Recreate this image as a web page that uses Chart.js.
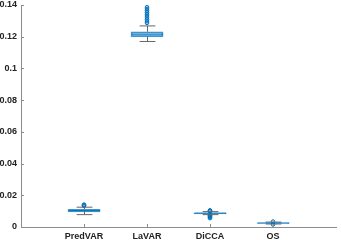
<!DOCTYPE html>
<html>
<head>
<meta charset="utf-8">
<script src="https://cdn.jsdelivr.net/npm/chart.js@4/dist/chart.umd.min.js"></script>
<style>
  html, body { margin: 0; padding: 0; background: #fff; }
  #wrap { width: 341px; height: 240px; }
</style>
</head>
<body>
<div id="wrap"><canvas id="chart" width="341" height="240"></canvas></div>
<script>
// box statistics
const categories = ["PredVAR", "LaVAR", "DiCCA", "OS"];
const q1 = [0.0095, 0.1201, 0.0083, 0.0022];
const med = [0.0103, 0.1216, 0.0087, 0.0025];
const q3 = [0.0112, 0.1231, 0.0090, 0.0027];
const whiskLow = [0.0078, 0.1170, 0.0078, 0.0019];
const whiskHigh = [0.0125, 0.1268, 0.0097, 0.0031];
const outliers = [
    [0.0133, 0.0137, 0.0141],
    [0.1287, 0.1298, 0.1309, 0.1320, 0.1331, 0.1342, 0.1353, 0.1364, 0.1375, 0.1386],
    [0.0056, 0.0061, 0.0066, 0.0071, 0.0074, 0.0099, 0.0102, 0.0105],
    [0.0016, 0.0034]
];
const yTicks = [0, 0.02, 0.04, 0.06, 0.08, 0.1, 0.12, 0.14];

const blue = "#0072BD";
const grey = "#8c8c8c";

const outlierPts = [];
outliers.forEach((list, i) => {
    list.forEach(v => outlierPts.push({x: i + 1, y: v}));
});

// whiskers, caps, medians and inward ticks
const boxExtras = {
    id: "boxExtras",
    afterDatasetsDraw(chart) {
        const ctx = chart.ctx;
        const xs = chart.scales.x, ys = chart.scales.y;
        const capHalf = (xs.getPixelForValue(1.125) - xs.getPixelForValue(1));
        const boxHalf = (xs.getPixelForValue(1.25) - xs.getPixelForValue(1));
        ctx.save();
        categories.forEach((c, i) => {
            const cx = Math.round(xs.getPixelForValue(i + 1)) + 0.5;
            ctx.strokeStyle = "#666";
            ctx.lineWidth = 1;
            ctx.beginPath();
            ctx.moveTo(cx, ys.getPixelForValue(q3[i]));
            ctx.lineTo(cx, ys.getPixelForValue(whiskHigh[i]));
            ctx.moveTo(cx, ys.getPixelForValue(q1[i]));
            ctx.lineTo(cx, ys.getPixelForValue(whiskLow[i]));
            ctx.moveTo(cx - capHalf, ys.getPixelForValue(whiskHigh[i]));
            ctx.lineTo(cx + capHalf, ys.getPixelForValue(whiskHigh[i]));
            ctx.moveTo(cx - capHalf, ys.getPixelForValue(whiskLow[i]));
            ctx.lineTo(cx + capHalf, ys.getPixelForValue(whiskLow[i]));
            ctx.stroke();
            ctx.strokeStyle = blue;
            ctx.lineWidth = 1;
            ctx.beginPath();
            ctx.moveTo(cx - boxHalf, ys.getPixelForValue(med[i]));
            ctx.lineTo(cx + boxHalf, ys.getPixelForValue(med[i]));
            ctx.stroke();
        });
        // ticks pointing into the plot
        ctx.strokeStyle = grey;
        ctx.lineWidth = 1;
        ctx.beginPath();
        const x0 = chart.chartArea.left, yb = chart.chartArea.bottom;
        yTicks.forEach(v => {
            const y = Math.round(ys.getPixelForValue(v)) + 0.5;
            ctx.moveTo(x0, y);
            ctx.lineTo(x0 + 3, y);
        });
        categories.forEach((c, i) => {
            const x = Math.round(xs.getPixelForValue(i + 1)) + 0.5;
            ctx.moveTo(x, yb);
            ctx.lineTo(x, yb - 3);
        });
        ctx.stroke();
        ctx.restore();
    }
};

new Chart(document.getElementById("chart"), {
    data: {
        datasets: [
            {
                type: "scatter",
                data: outlierPts,
                pointStyle: "circle",
                pointRadius: 1.8,
                pointBorderWidth: 1,
                pointBorderColor: blue,
                pointBackgroundColor: "rgba(0,114,189,0.2)",
                order: 0
            },
            {
                type: "bar",
                data: categories.map((c, i) => ({x: i + 1, y: [q1[i], q3[i]]})),
                barThickness: 32,
                backgroundColor: "rgba(0,114,189,0.18)",
                borderColor: "rgba(0,114,189,0.75)",
                borderWidth: 1,
                borderSkipped: false,
                order: 1
            }
        ]
    },
    options: {
        responsive: false,
        animation: false,
        layout: { padding: { top: 3, right: 0, left: 0, bottom: 0 } },
        plugins: { legend: { display: false }, tooltip: { enabled: false } },
        scales: {
            x: {
                type: "linear",
                offset: false,
                min: 0,
                max: 5,
                afterBuildTicks: s => { s.ticks = [1, 2, 3, 4].map(v => ({value: v})); },
                afterFit: s => { s.height = 13; s.paddingLeft = 0; s.paddingRight = 0; },
                grid: { display: false, drawTicks: false },
                border: { display: true, color: grey, width: 1 },
                ticks: {
                    padding: 4,
                    color: "#222",
                    font: { family: "Liberation Sans", size: 9, weight: "bold" },
                    callback: v => categories[v - 1] || ""
                }
            },
            y: {
                min: 0,
                max: 0.14,
                afterBuildTicks: s => { s.ticks = yTicks.map(v => ({value: v})); },
                afterFit: s => { s.width = 21; s.paddingTop = 0; s.paddingBottom = 0; },
                grid: { display: false, drawTicks: false },
                border: { display: true, color: grey, width: 1 },
                ticks: {
                    padding: 4,
                    color: "#222",
                    font: { family: "Liberation Sans", size: 9, weight: "bold" },
                    callback: v => String(Math.round(v * 100) / 100)
                }
            }
        }
    },
    plugins: [boxExtras]
});
</script>
</body>
</html>
